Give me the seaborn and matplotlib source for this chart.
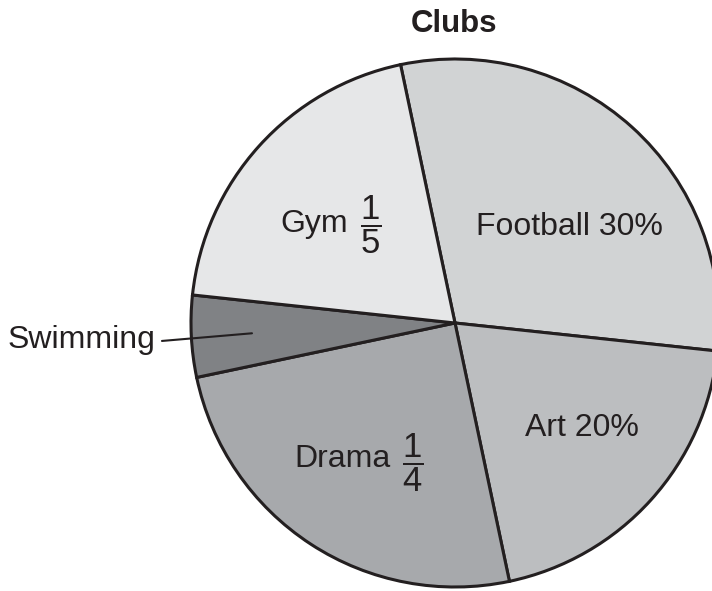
import numpy as np
import matplotlib
matplotlib.use("Agg")
import matplotlib.pyplot as plt
import seaborn as sns

clubs = ["Football", "Art", "Drama", "Swimming", "Gym"]
shares = [30, 20, 25, 5, 20]
names = ["Football 30%", "Art 20%", "Drama", "Swimming", "Gym"]
fractions = [None, None, r"$\dfrac{1}{4}$", None, r"$\dfrac{1}{5}$"]
colors = ["#d1d3d4", "#bcbec0", "#a7a9ac", "#808285", "#e6e7e8"]

sns.set_theme(style="white")
plt.rcParams["font.family"] = ["Liberation Sans", "DejaVu Sans"]
plt.rcParams["mathtext.fontset"] = "custom"
plt.rcParams["mathtext.rm"] = "Liberation Sans"
plt.rcParams["mathtext.it"] = "Liberation Sans"
plt.rcParams["mathtext.bf"] = "Liberation Sans:bold"

W, H = 712, 591
fig = plt.figure(figsize=(W / 100, H / 100), dpi=100)
cx, cy, R = 455, 323, 264
ax = fig.add_axes([(cx - R) / W, (H - cy - R) / H, 2 * R / W, 2 * R / H])

wedges, _ = ax.pie(shares, colors=colors, startangle=101.9, counterclock=False,
                   radius=1, wedgeprops=dict(edgecolor="#231f20", linewidth=2.2))
for w in wedges:
    w.set_clip_on(False)
ax.set_xlim(-1, 1)
ax.set_ylim(-1, 1)
ax.set_aspect("equal")
ax.axis("off")

ink = "#231f20"
fs = 23
name_pos = {"Football": (0.434, 0.333), "Art": (0.481, -0.428),
            "Drama": (-0.426, -0.545), "Gym": (-0.532, 0.345)}
frac_pos = {"Drama": (-0.159, -0.530), "Gym": (-0.318, 0.371)}
for club, name, frac in zip(clubs, names, fractions):
    if club in name_pos:
        x, y = name_pos[club]
        ax.text(x, y, name, ha="center", va="baseline", fontsize=fs, color=ink)
    if frac is not None:
        x, y = frac_pos[club]
        ax.text(x, y, frac, ha="center", va="center", fontsize=25, color=ink)

# Swimming label with leader line
i = clubs.index("Swimming")
w = wedges[i]
mid = np.deg2rad((w.theta1 + w.theta2) / 2)
ax.annotate("", xy=(0.77 * np.cos(mid), 0.77 * np.sin(mid)), xytext=(-1.11, -0.068),
            arrowprops=dict(arrowstyle="-", color=ink, lw=1.5, shrinkA=0, shrinkB=0),
            annotation_clip=False)
ax.text(-1.136, -0.0947, names[i], ha="right", va="baseline", fontsize=fs, color=ink)

fig.text(454.5 / W, 1 - 32 / H, "Clubs", ha="center", va="baseline", fontsize=22.5,
         fontweight="bold", color=ink)

fig.savefig("out.png", dpi=100, facecolor="white")
